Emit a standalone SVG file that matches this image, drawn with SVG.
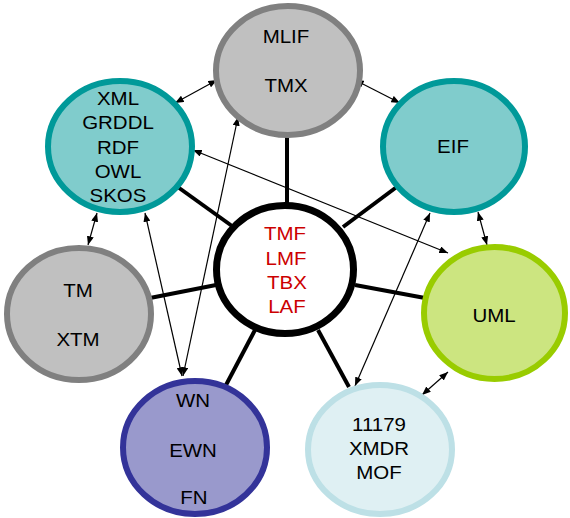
<svg xmlns="http://www.w3.org/2000/svg" width="570" height="518" viewBox="0 0 570 518">
<defs>
<marker id="ah" viewBox="0 0 10 8" refX="10" refY="4" markerWidth="9" markerHeight="7" markerUnits="userSpaceOnUse" orient="auto-start-reverse">
<path d="M0,0 L10,4 L0,8 Z" fill="#000"/>
</marker>
</defs>
<style>
.t{font-family:"Liberation Sans",Arial,sans-serif;font-size:18.6px;text-anchor:middle;fill:#000}
.r{fill:#cc0000}
.gray{fill:#c0c0c0;stroke:#808080;stroke-width:6}
.teal{fill:#80cccc;stroke:#009999;stroke-width:6}
.green{fill:#cce580;stroke:#99cc00;stroke-width:6}
.blue{fill:#9999cc;stroke:#333399;stroke-width:6}
.light{fill:#dff0f3;stroke:#bde0e6;stroke-width:6}
.thick{stroke:#000;stroke-width:4;fill:none}
.thin{stroke:#000;stroke-width:1.2;fill:none;marker-start:url(#ah);marker-end:url(#ah)}
</style>
<rect width="570" height="518" fill="#fff"/>
<g id="connectors">
<line class="thick" x1="287" y1="135" x2="287" y2="205"/>
<line class="thick" x1="175" y1="185" x2="232" y2="226"/>
<line class="thick" x1="398" y1="186" x2="343" y2="227"/>
<line class="thick" x1="150" y1="298" x2="216" y2="285"/>
<line class="thick" x1="355" y1="285" x2="425" y2="298"/>
<line class="thick" x1="255" y1="330" x2="226" y2="385"/>
<line class="thick" x1="318" y1="330" x2="349" y2="387"/>
<line class="thin" x1="175" y1="103" x2="217" y2="80"/>
<line class="thin" x1="355" y1="80" x2="400" y2="103"/>
<line class="thin" x1="478" y1="212" x2="487" y2="245"/>
<line class="thin" x1="448" y1="372" x2="422" y2="395"/>
<line class="thin" x1="97" y1="213" x2="88" y2="245"/>
<line class="thin" x1="193" y1="150" x2="448" y2="253"/>
<line class="thin" x1="145" y1="213" x2="182" y2="376"/>
<line class="thin" x1="238" y1="117" x2="183" y2="376"/>
<line class="thin" x1="430" y1="213" x2="355" y2="386"/>
</g>
<g id="node-mlif">
<ellipse class="gray" cx="288" cy="70.5" rx="72" ry="64.5"/>
<text class="t" transform="translate(286 43) scale(1.1 1)">MLIF</text>
<text class="t" transform="translate(286 92) scale(1.1 1)">TMX</text>
</g>
<g id="node-xml">
<ellipse class="teal" cx="120" cy="146.5" rx="72" ry="65.5"/>
<text class="t" transform="translate(118 105) scale(1.1 1)">XML</text>
<text class="t" transform="translate(118 129) scale(1.1 1)">GRDDL</text>
<text class="t" transform="translate(118 154) scale(1.1 1)">RDF</text>
<text class="t" transform="translate(118 178) scale(1.1 1)">OWL</text>
<text class="t" transform="translate(118 202) scale(1.1 1)">SKOS</text>
</g>
<g id="node-eif">
<ellipse class="teal" cx="454" cy="146.5" rx="71" ry="65.5"/>
<text class="t" transform="translate(453 153) scale(1.1 1)">EIF</text>
</g>
<g id="node-tmf">
<ellipse cx="285" cy="269.5" rx="68.5" ry="64" fill="#fff" stroke="#000" stroke-width="7"/>
<text class="t r" transform="translate(285 240) scale(1.1 1)">TMF</text>
<text class="t r" transform="translate(286 265) scale(1.1 1)">LMF</text>
<text class="t r" transform="translate(287 289) scale(1.1 1)">TBX</text>
<text class="t r" transform="translate(287 313) scale(1.1 1)">LAF</text>
</g>
<g id="node-tm">
<ellipse class="gray" cx="79" cy="314" rx="72" ry="66"/>
<text class="t" transform="translate(78 297) scale(1.1 1)">TM</text>
<text class="t" transform="translate(78 346) scale(1.1 1)">XTM</text>
</g>
<g id="node-uml">
<ellipse class="green" cx="494.5" cy="313" rx="70.5" ry="66"/>
<text class="t" transform="translate(494 322) scale(1.1 1)">UML</text>
</g>
<g id="node-wn">
<ellipse class="blue" cx="195" cy="447.5" rx="72" ry="66.5"/>
<text class="t" transform="translate(193 407) scale(1.1 1)">WN</text>
<text class="t" transform="translate(193 457) scale(1.1 1)">EWN</text>
<text class="t" transform="translate(194 504) scale(1.1 1)">FN</text>
</g>
<g id="node-11179">
<ellipse class="light" cx="380" cy="449.5" rx="72" ry="64.5"/>
<text class="t" transform="translate(379 431) scale(1.1 1)">11179</text>
<text class="t" transform="translate(379 455) scale(1.1 1)">XMDR</text>
<text class="t" transform="translate(379 479) scale(1.1 1)">MOF</text>
</g>
</svg>
